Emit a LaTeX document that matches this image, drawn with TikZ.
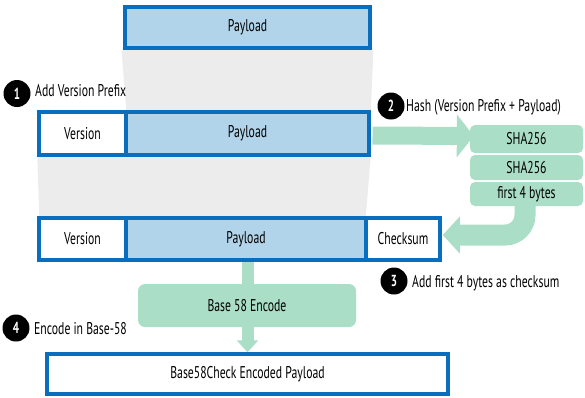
\documentclass[tikz,border=0pt]{standalone}
\usepackage{fontspec}
\setmainfont{PT Sans}[FakeStretch=0.69]
\usetikzlibrary{calc,arrows.meta,backgrounds}
\definecolor{bblue}{RGB}{10,110,190}
\definecolor{lblue}{RGB}{178,212,234}
\definecolor{mint}{RGB}{170,222,198}
\definecolor{greybg}{RGB}{236,236,236}
\tikzset{
  box/.style={draw=bblue, line width=3.5pt, inner sep=0pt, font=\fontsize{17}{20}\selectfont},
  pay/.style={box, fill=lblue},
  wht/.style={box, fill=white},
  gbox/.style={fill=mint, rounded corners=7pt, inner sep=0pt, font=\fontsize{17}{20}\selectfont},
  flow/.style={draw=mint, line cap=butt},
  num/.style={circle, fill=black, text=white, inner sep=0pt, minimum size=27pt, font=\fontsize{16}{16}\selectfont\bfseries},
  lbl/.style={anchor=base west, inner sep=0pt, font=\fontsize{17}{20}\selectfont},
}
\begin{document}
\begin{tikzpicture}[x=1pt,y=-1pt]
\useasboundingbox (0,0) rectangle (585,397);
% boxes
\node[pay, minimum width=245pt, minimum height=41pt] (p0) at (247.5,27.5) {Payload};
\node[wht, minimum width=87pt, minimum height=43pt] (v1) at (82.5,133.5) {Version};
\node[pay, minimum width=243pt, minimum height=43pt] (p1) at (247.5,133.5) {Payload};
\node[wht, minimum width=87pt, minimum height=42pt] (v2) at (82.5,239) {Version};
\node[pay, minimum width=240pt, minimum height=42pt] (p2) at (246,239) {Payload};
\node[wht, minimum width=74pt, minimum height=42pt] (cs) at (403,239) {Checksum};
\node[wht, minimum width=401pt, minimum height=40pt] (fin) at (247.5,374) {Base58Check Encoded Payload};
\node[gbox, minimum width=218pt, minimum height=43pt] (enc) at (247,305.5) {Base 58 Encode};
\node[gbox, rounded corners=5pt, minimum width=113pt, minimum height=28pt] (s1) at (526.5,139) {SHA256};
\node[gbox, rounded corners=5pt, minimum width=113pt, minimum height=25pt] (s2) at (526.5,167.5) {SHA256};
\node[gbox, rounded corners=5pt, minimum width=113pt, minimum height=24pt] (s3) at (526.5,194) {first 4 bytes};
% labels
\node[num] (n1) at (17,93.5) {1};
\node[lbl] (t1) at (35,96) {Add Version Prefix};
\node[num] (n2) at (391,106) {2};
\node[lbl] (t2) at (406,111) {Hash (Version Prefix + Payload)};
\node[num] (n3) at (394,281) {3};
\node[lbl] (t3) at (412,287) {Add first 4 bytes as checksum};
\node[num] (n4) at (16,328) {4};
\node[lbl] (t4) at (34,334) {Encode in Base-58};
% background shading and arrows
\begin{scope}[on background layer]
\fill[greybg] ($(p0.south west)+(-1.75,0)$) -- ($(p0.south east)+(1.75,0)$) -- ($(p1.north east)+(0,0)$) -- ($(p1.north west)+(2,0)$) -- cycle;
\fill[greybg] ($(v1.south west)+(0,0)$) -- ($(p1.south east)+(0,0)$) -- ($(p2.north east)+(-2,0)$) -- ($(v2.north west)+(2,0)$) -- cycle;
\draw[flow, line width=18pt, -{Triangle[length=17pt,width=42pt]}] ($(p1.east)+(1.75,2)$) -- ($(s1.west)+(4,-3)$);
\draw[flow, line width=21pt, rounded corners=20pt, -{Triangle[length=17pt,width=36pt]}] ($(s3.south)+(-1.5,-2)$) |- ($(cs.east)+(1,-4)$);
\draw[flow, line width=12pt] ($(p2.south)+(1.5,0)$) -- ($(enc.north)+(0.5,1)$);
\draw[flow, line width=12pt, -{Triangle[length=12pt,width=21pt]}] ($(enc.south)+(0.5,-1)$) -- ($(fin.north)+(0,0)$);
\end{scope}
\end{tikzpicture}
\end{document}
